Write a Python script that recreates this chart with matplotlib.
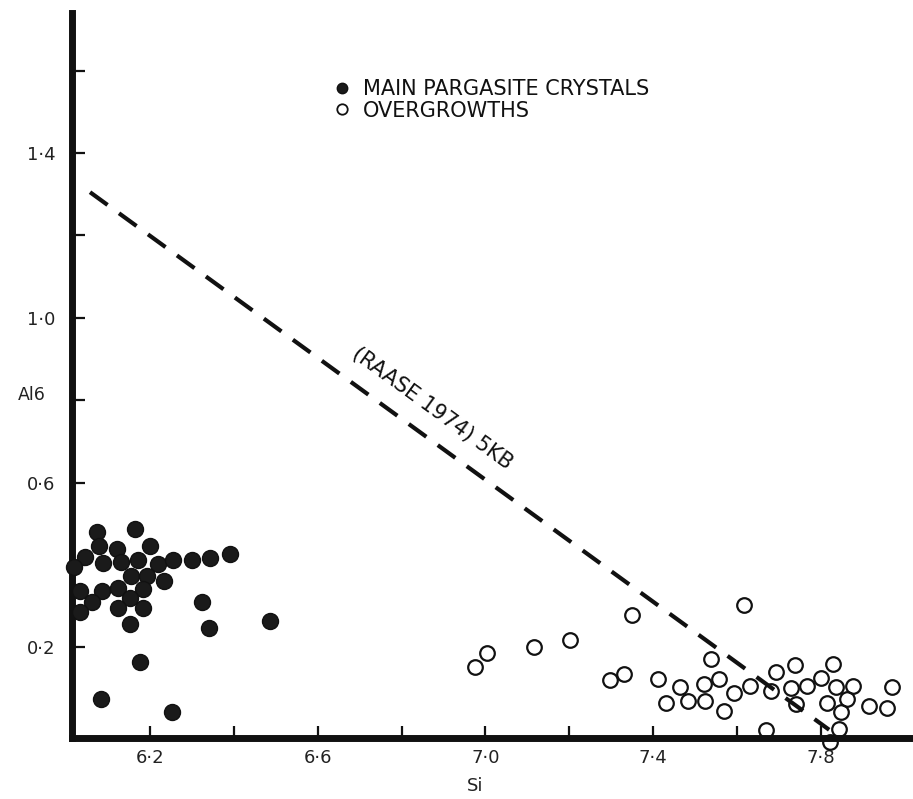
import math
import matplotlib
matplotlib.use('Agg')
import matplotlib.pyplot as plt
from matplotlib.lines import Line2D

plt.rcParams['font.family'] = ['DejaVu Sans']

# ---- data ----
main_si = [6.074, 6.164, 6.079, 6.122, 6.200, 6.045, 6.088, 6.130, 6.172, 6.019,
           6.220, 6.256, 6.301, 6.343, 6.391, 6.154, 6.194, 6.234, 6.033, 6.085,
           6.124, 6.183, 6.062, 6.152, 6.033, 6.123, 6.184, 6.325, 6.152, 6.341,
           6.487, 6.176, 6.083, 6.252]
main_al = [0.481, 0.487, 0.445, 0.438, 0.445, 0.420, 0.406, 0.408, 0.412, 0.396,
           0.403, 0.411, 0.412, 0.418, 0.427, 0.374, 0.374, 0.360, 0.336, 0.338,
           0.344, 0.341, 0.311, 0.320, 0.285, 0.295, 0.295, 0.309, 0.257, 0.248,
           0.265, 0.164, 0.074, 0.044]

over_si = [6.976, 7.004, 7.117, 7.203, 7.350, 7.618, 7.297, 7.330, 7.411, 7.464,
           7.432, 7.483, 7.521, 7.523, 7.557, 7.537, 7.592, 7.569, 7.631, 7.669,
           7.682, 7.693, 7.738, 7.728, 7.740, 7.768, 7.800, 7.829, 7.836, 7.816,
           7.862, 7.878, 7.849, 7.844, 7.822, 7.915, 7.958, 7.969]
over_al = [0.152, 0.186, 0.202, 0.218, 0.279, 0.303, 0.121, 0.136, 0.123, 0.104,
           0.066, 0.069, 0.112, 0.069, 0.123, 0.172, 0.089, 0.046, 0.107, 0.000,
           0.093, 0.141, 0.158, 0.101, 0.063, 0.107, 0.125, 0.160, 0.104, 0.065,
           0.074, 0.107, 0.042, 0.002, -0.030, 0.058, 0.053, 0.104]

line_si = [6.057, 7.82]
line_al = [1.305, 0.0]

x_ticks = [6.2, 6.4, 6.6, 6.8, 7.0, 7.2, 7.4, 7.6, 7.8]
x_labels = ['6·2', '', '6·6', '', '7·0', '', '7·4', '', '7·8']
y_ticks = [0.2, 0.4, 0.6, 0.8, 1.0, 1.2, 1.4, 1.6]
y_labels = ['0·2', '', '0·6', '', '1·0', '', '1·4', '']

series_labels = ['MAIN PARGASITE CRYSTALS', 'OVERGROWTHS']
line_label = '(RAASE 1974) 5KB'

# ---- figure ----
W, H = 913, 799
fig = plt.figure(figsize=(W / 100, H / 100), dpi=100)
fig.patch.set_facecolor('white')
left_px, right_px, top_px, bottom_px = 72, 913, 13, 738
ax = fig.add_axes([left_px / W, (H - bottom_px) / H,
                   (right_px - left_px) / W, (bottom_px - top_px) / H])

ax.set_xlim(6.014, 8.02)
ax.set_ylim(-0.02, 1.74)

for s in ['top', 'right']:
    ax.spines[s].set_visible(False)
for s in ['left', 'bottom']:
    ax.spines[s].set_linewidth(5)
    ax.spines[s].set_color('#111111')
    ax.spines[s].set_capstyle('projecting')

ax.set_xticks(x_ticks)
ax.set_xticklabels(x_labels)
ax.set_yticks(y_ticks)
ax.set_yticklabels(y_labels)
ax.tick_params(axis='both', direction='in', length=9, width=1.6,
               color='#111111', labelsize=13, labelcolor='#222222')
ax.tick_params(axis='x', pad=8)
ax.tick_params(axis='y', pad=12)

ax.set_xlabel('Si', fontsize=13, color='#222222', va='center')
ax.xaxis.set_label_coords((475 - left_px) / (right_px - left_px),
                          -(786 - bottom_px) / (bottom_px - top_px))
ax.set_ylabel('Al6', fontsize=12.5, rotation=0, color='#222222',
              ha='center', va='center')
ax.yaxis.set_label_coords(-(72 - 32) / (right_px - left_px),
                          (bottom_px - 395) / (bottom_px - top_px))

# dashed reference line
ax.plot(line_si, line_al, color='#111111', lw=3, dashes=(5.2, 3.4),
        solid_capstyle='butt', dash_capstyle='butt', zorder=2)

# points
ax.plot(main_si, main_al, linestyle='none', marker='o', markersize=11.5,
        markerfacecolor='#1a1a1a', markeredgecolor='#111111',
        markeredgewidth=1.0, zorder=3, clip_on=False)
ax.plot(over_si, over_al, linestyle='none', marker='o', markersize=10.5,
        markerfacecolor='none', markeredgecolor='#111111',
        markeredgewidth=1.6, zorder=3, clip_on=False)

# label along the dashed line
fig.canvas.draw()
p0 = ax.transData.transform((line_si[0], line_al[0]))
p1 = ax.transData.transform((line_si[1], line_al[1]))
ang = math.degrees(math.atan2(p1[1] - p0[1], p1[0] - p0[0]))
ax.text(6.873, 0.780, line_label, rotation=ang, rotation_mode='anchor',
        ha='center', va='center', fontsize=15, color='#111111')

# legend
handles = [Line2D([], [], linestyle='none', marker='o', markersize=7.5,
                  markerfacecolor='#1a1a1a', markeredgecolor='#111111'),
           Line2D([], [], linestyle='none', marker='o', markersize=7.5,
                  markerfacecolor='none', markeredgecolor='#111111',
                  markeredgewidth=1.3)]
leg = ax.legend(handles, series_labels, loc='upper left',
                bbox_to_anchor=(332 / W, 1 - 79 / H),
                bbox_transform=fig.transFigure, frameon=False,
                fontsize=15, handlelength=1.0, handletextpad=0.5,
                labelspacing=0.08, borderpad=0, borderaxespad=0)
for t in leg.get_texts():
    t.set_color('#111111')

fig.savefig('out.png', dpi=100, facecolor='white')
